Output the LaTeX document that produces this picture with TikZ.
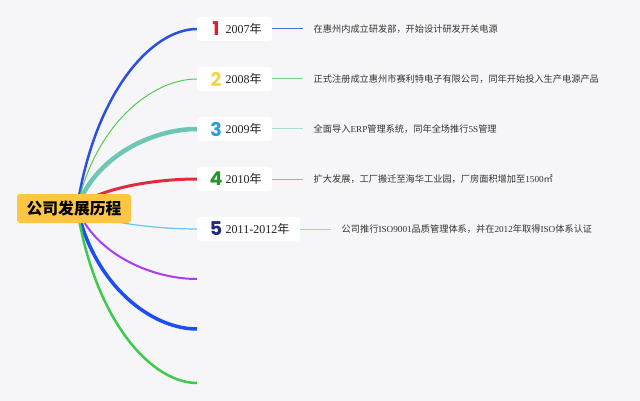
\documentclass[tikz,border=0pt]{standalone}
\usepackage{fontspec}
\setmainfont{Liberation Serif}
\newfontfamily\cjk{Noto Sans CJK SC}
\newfontfamily\numfont{Poppins}
\usetikzlibrary{calc}
\definecolor{bgcol}{HTML}{F6F6F8}
\definecolor{rootcol}{HTML}{FCC542}
\definecolor{txtcol}{HTML}{222222}
\definecolor{desccol}{HTML}{333333}
\definecolor{c1}{HTML}{2B4FE3}
\definecolor{c2}{HTML}{57C957}
\definecolor{c3}{HTML}{6EC6B4}
\definecolor{c4}{HTML}{E62A3E}
\definecolor{c5}{HTML}{66C6EC}
\definecolor{c6}{HTML}{A93CF5}
\definecolor{c7}{HTML}{1D4FF0}
\definecolor{c8}{HTML}{3FCA4C}
\definecolor{n1}{HTML}{E01E30}
\definecolor{n2}{HTML}{F2D54A}
\definecolor{n3}{HTML}{2C9BD9}
\definecolor{n4}{HTML}{1E9A24}
\definecolor{n5}{HTML}{1F2A7A}
\definecolor{l1}{HTML}{4F6FE0}
\definecolor{l2}{HTML}{77D48A}
\definecolor{l3}{HTML}{A6E0D2}
\definecolor{l4}{HTML}{F08AA0}
\definecolor{l5}{HTML}{8FD3EF}
\pgfdeclarelayer{bg}
\pgfdeclarelayer{links}
\pgfsetlayers{bg,links,main}
\newcommand{\zh}[1]{{\cjk #1}}
\tikzset{
  rootbox/.style={fill=rootcol, rounded corners=3pt, minimum width=114pt, minimum height=29pt, inner sep=0pt, font=\cjk\bfseries\fontsize{15.8}{18}\selectfont, text=black},
  yearbox/.style={fill=white, rounded corners=3pt, minimum height=24pt, inner sep=0pt, anchor=west},
  numtxt/.style={font=\numfont\bfseries\fontsize{19}{20}\selectfont, inner sep=0pt},
  yeartxt/.style={font=\fontsize{12}{14}\selectfont, text=txtcol, inner sep=0pt, anchor=west},
  desc/.style={font=\fontsize{9.2}{11}\selectfont, text=desccol, inner sep=0pt, anchor=west},
  tickline/.style={line width=1pt, shorten >=10.5pt},
}
\begin{document}
\begin{tikzpicture}[x=1pt,y=-1pt]
\begin{pgfonlayer}{bg}
\fill[bgcol] (0,0) rectangle (640,401);
\end{pgfonlayer}
\useasboundingbox (0,0) rectangle (640,401);

\node[rootbox] (root) at (74,208.5) {公司发展历程};
\coordinate (o) at (77,208);

% year boxes
\node[yearbox, minimum width=75pt] (y1) at (197,29) {};
\node[yearbox, minimum width=75pt] (y2) at (197,79) {};
\node[yearbox, minimum width=75pt] (y3) at (197,129) {};
\node[yearbox, minimum width=75pt] (y4) at (197,179) {};
\node[yearbox, minimum width=103pt] (y5) at (197,229) {};

\node[numtxt, text=n1] (k1) at (216,29) {1};
\node[numtxt, text=n2] (k2) at (216,79) {2};
\node[numtxt, text=n3] (k3) at (216,129) {3};
\node[numtxt, text=n4] (k4) at (216,179) {4};
\node[numtxt, text=n5] (k5) at (216,229) {5};

\node[yeartxt] (t1) at (225.5,29) {2007\zh{年}};
\node[yeartxt] (t2) at (225.5,79) {2008\zh{年}};
\node[yeartxt] (t3) at (225.5,129) {2009\zh{年}};
\node[yeartxt] (t4) at (225.5,179) {2010\zh{年}};
\node[yeartxt] (t5) at (225.5,229) {2011-2012\zh{年}};

\node[desc] (d1) at (313.5,29) {\zh{在惠州内成立研发部，开始设计研发开关电源}};
\node[desc] (d2) at (313.5,79) {\zh{正式注册成立惠州市赛利特电子有限公司，同年开始投入生产电源产品}};
\node[desc] (d3) at (313.5,129) {\zh{全面导入}ERP\zh{管理系统，同年全场推行}5S\zh{管理}};
\node[desc] (d4) at (313.5,179) {\zh{扩大发展，工厂搬迁至海华工业园，厂房面积增加至}1500\zh{㎡}};
\node[desc] (d5) at (341.5,229) {\zh{公司推行}ISO9001\zh{品质管理体系，并在}2012\zh{年取得}ISO\zh{体系认证}};

\draw[tickline, draw=l1] (y1.east) -- (d1.west);
\draw[tickline, draw=l2] (y2.east) -- (d2.west);
\draw[tickline, draw=l3] (y3.east) -- (d3.west);
\draw[tickline, draw=l4] (y4.east) -- (d4.west);
\draw[tickline, draw=l5] (y5.east) -- (d5.west);

\coordinate (e6) at (197,279);
\coordinate (e7) at (197,329);
\coordinate (e8) at (197,383);

\begin{pgfonlayer}{links}
\draw[draw=c1, line width=2.5pt] let \p1=(o), \p2=(y1.west) in (\p1) .. controls (\x1+18pt,{\y1+0.65*(\y2-\y1)}) and (\x1+75pt,\y2) .. (\p2);
\draw[draw=c2, line width=1pt] let \p1=(o), \p2=(y2.west) in (\p1) .. controls (\x1+18pt,{\y1+0.65*(\y2-\y1)}) and (\x1+75pt,\y2) .. (\p2);
\draw[draw=c3, line width=4.5pt] let \p1=(o), \p2=(y3.west) in (\p1) .. controls (\x1+18pt,{\y1+0.65*(\y2-\y1)}) and (\x1+75pt,\y2) .. (\p2);
\draw[draw=c4, line width=3pt] let \p1=(o), \p2=(y4.west) in (\p1) .. controls (\x1+18pt,{\y1+0.65*(\y2-\y1)}) and (\x1+75pt,\y2) .. (\p2);
\draw[draw=c5, line width=1.2pt] let \p1=(o), \p2=(y5.west) in (\p1) .. controls (\x1+18pt,{\y1+0.65*(\y2-\y1)}) and (\x1+75pt,\y2) .. (\p2);
\draw[draw=c6, line width=2pt] let \p1=(o), \p2=(e6) in (\p1) .. controls (\x1+18pt,{\y1+0.65*(\y2-\y1)}) and (\x1+75pt,\y2) .. (\p2);
\draw[draw=c7, line width=3.5pt] let \p1=(o), \p2=(e7) in (\p1) .. controls (\x1+18pt,{\y1+0.65*(\y2-\y1)}) and (\x1+75pt,\y2) .. (\p2);
\draw[draw=c8, line width=2.5pt] let \p1=(o), \p2=(e8) in (\p1) .. controls (\x1+18pt,{\y1+0.65*(\y2-\y1)}) and (\x1+75pt,\y2) .. (\p2);
\end{pgfonlayer}
\end{tikzpicture}
\end{document}
